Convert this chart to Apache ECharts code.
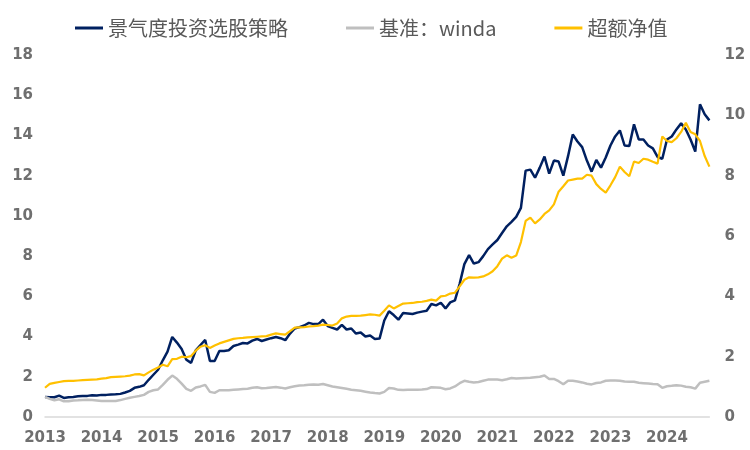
<!DOCTYPE html>
<html>
<head>
<meta charset="utf-8">
<script src="https://cdn.jsdelivr.net/npm/echarts@6/dist/echarts.min.js"></script>
<style>html,body{margin:0;padding:0;background:#fff;}#c{width:750px;height:450px;}</style>
</head>
<body>
<div id="c"></div>
<script>
// Monthly, 2013-01 .. 2024-10
var startYear = 2013, startMonth = 1, monthCount = 142;
var categories = [];
for (var k = 0; k < monthCount; k++) {
  var m = startMonth - 1 + k;
  var y = startYear + Math.floor(m / 12);
  var mm = (m % 12) + 1;
  categories.push(y + '-' + (mm < 10 ? '0' + mm : mm));
}

var seriesNames = ['景气度投资选股策略', '基准：winda', '超额净值'];

var strategy = [
  1.0,0.98,0.98,1.06,0.95,0.98,1.0,1.03,1.05,1.05,1.08,1.07,
  1.1,1.1,1.12,1.13,1.15,1.22,1.3,1.45,1.5,1.58,1.85,2.1,
  2.35,2.82,3.25,3.98,3.7,3.38,2.85,2.69,3.32,3.58,3.83,2.78,
  2.78,3.28,3.28,3.32,3.53,3.6,3.68,3.66,3.8,3.88,3.78,3.85,
  3.92,3.98,3.92,3.82,4.15,4.4,4.47,4.55,4.68,4.62,4.62,4.84,
  4.52,4.43,4.35,4.58,4.35,4.4,4.15,4.2,4.0,4.05,3.88,3.9,
  4.8,5.26,5.07,4.84,5.17,5.15,5.12,5.19,5.24,5.28,5.62,5.55,
  5.68,5.4,5.7,5.8,6.62,7.6,8.05,7.63,7.7,8.0,8.35,8.58,
  8.8,9.15,9.48,9.7,9.95,10.4,12.25,12.3,11.9,12.4,12.95,12.1,
  12.75,12.7,12.0,12.97,14.05,13.7,13.42,12.75,12.2,12.78,12.4,12.9,
  13.5,13.95,14.25,13.5,13.47,14.55,13.8,13.8,13.5,13.36,12.93,12.84,
  13.8,13.95,14.3,14.6,14.3,13.8,13.2,15.55,15.05,14.75
];

var benchmark = [
  1.0,0.9,0.83,0.88,0.78,0.78,0.82,0.83,0.85,0.86,0.84,0.82,
  0.8,0.8,0.8,0.8,0.84,0.9,0.96,1.0,1.04,1.1,1.25,1.33,
  1.37,1.6,1.85,2.06,1.9,1.66,1.4,1.3,1.47,1.52,1.6,1.25,
  1.2,1.33,1.33,1.33,1.35,1.37,1.39,1.41,1.45,1.48,1.43,1.44,
  1.47,1.49,1.46,1.42,1.48,1.53,1.57,1.58,1.6,1.61,1.6,1.64,
  1.58,1.52,1.48,1.44,1.4,1.36,1.33,1.3,1.26,1.22,1.19,1.17,
  1.25,1.44,1.42,1.35,1.34,1.36,1.36,1.36,1.37,1.39,1.48,1.47,
  1.45,1.38,1.42,1.52,1.68,1.8,1.75,1.72,1.74,1.8,1.86,1.86,
  1.86,1.83,1.88,1.94,1.91,1.93,1.94,1.95,1.98,2.0,2.06,1.89,
  1.89,1.78,1.63,1.8,1.8,1.77,1.72,1.65,1.62,1.69,1.72,1.8,
  1.82,1.81,1.8,1.76,1.75,1.75,1.7,1.68,1.66,1.64,1.63,1.45,
  1.53,1.55,1.58,1.56,1.5,1.48,1.41,1.7,1.75,1.8
];

var excess = [
  0.97,1.1,1.13,1.16,1.19,1.2,1.2,1.21,1.22,1.23,1.24,1.25,
  1.27,1.29,1.32,1.33,1.34,1.35,1.37,1.41,1.42,1.38,1.48,1.57,
  1.64,1.73,1.68,1.92,1.93,2.0,1.98,2.02,2.2,2.33,2.38,2.29,
  2.37,2.44,2.49,2.54,2.59,2.61,2.62,2.64,2.65,2.66,2.67,2.68,
  2.73,2.77,2.75,2.73,2.85,2.96,2.97,2.98,3.0,3.01,3.03,3.06,
  3.05,3.03,3.1,3.27,3.33,3.35,3.35,3.36,3.38,3.4,3.39,3.36,
  3.52,3.7,3.6,3.68,3.76,3.77,3.78,3.81,3.82,3.85,3.89,3.86,
  4.0,4.02,4.09,4.12,4.33,4.55,4.63,4.62,4.63,4.66,4.73,4.83,
  5.0,5.25,5.36,5.28,5.35,5.8,6.5,6.61,6.42,6.55,6.73,6.85,
  7.05,7.47,7.65,7.84,7.87,7.9,7.9,8.03,8.0,7.72,7.56,7.44,
  7.68,7.95,8.3,8.12,7.98,8.47,8.42,8.56,8.53,8.46,8.4,9.3,
  9.15,9.11,9.24,9.45,9.75,9.45,9.37,9.15,8.65,8.3
];

var leftTicks = {min: 0, max: 18, interval: 2};
var rightTicks = {min: 0, max: 12, interval: 2};

var labelStyle = {color: '#6f6f6f', fontSize: 15, fontWeight: 'bold', fontFamily: 'DejaVu Sans'};

var chart = echarts.init(document.getElementById('c'), null, {renderer: 'canvas'});
chart.setOption({
  animation: false,
  backgroundColor: '#ffffff',
  legend: {
    top: 13,
    left: 70,
    itemGap: 58,
    itemWidth: 28,
    itemHeight: 3,
    icon: 'rect',
    textStyle: {color: '#595959', fontSize: 20, fontFamily: 'Noto Sans CJK SC'},
    data: seriesNames
  },
  grid: {left: 45, right: 40.6, top: 55, bottom: 33, containLabel: false},
  xAxis: {
    type: 'category',
    data: categories,
    boundaryGap: false,
    axisTick: {show: false},
    axisLine: {show: true, lineStyle: {color: '#d9d9d9', width: 1.5}},
    splitLine: {show: false},
    axisLabel: Object.assign({
      margin: 14,
      interval: function (idx) { return idx % 12 === 0; },
      formatter: function (v) { return v.slice(0, 4); }
    }, labelStyle)
  },
  yAxis: [
    {
      type: 'value', min: leftTicks.min, max: leftTicks.max, interval: leftTicks.interval,
      axisLine: {show: false}, axisTick: {show: false}, splitLine: {show: false},
      axisLabel: Object.assign({margin: 12}, labelStyle)
    },
    {
      type: 'value', min: rightTicks.min, max: rightTicks.max, interval: rightTicks.interval,
      axisLine: {show: false}, axisTick: {show: false}, splitLine: {show: false},
      axisLabel: Object.assign({margin: 15}, labelStyle)
    }
  ],
  series: [
    {name: seriesNames[0], type: 'line', yAxisIndex: 0, data: strategy, symbol: 'none',
     itemStyle: {color: '#002060'}, lineStyle: {color: '#002060', width: 2.5}},
    {name: seriesNames[1], type: 'line', yAxisIndex: 0, data: benchmark, symbol: 'none',
     itemStyle: {color: '#bfbfbf'}, lineStyle: {color: '#bfbfbf', width: 2.5}},
    {name: seriesNames[2], type: 'line', yAxisIndex: 1, data: excess, symbol: 'none',
     itemStyle: {color: '#ffc000'}, lineStyle: {color: '#ffc000', width: 2.2}}
  ]
});
</script>
</body>
</html>
